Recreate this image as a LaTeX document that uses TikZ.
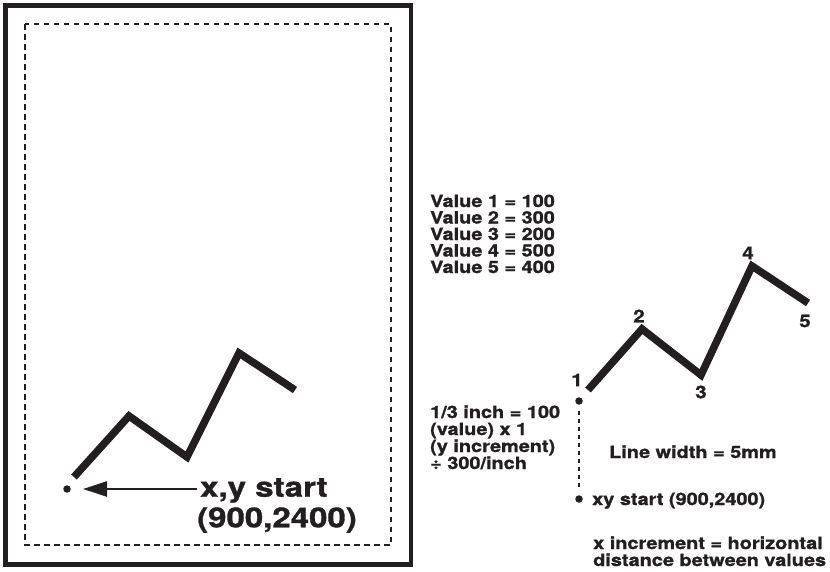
\documentclass[tikz,border=0pt]{standalone}
\usepackage{fontspec}
\setmainfont{TeX Gyre Heros}
\newfontfamily\smallf[FakeStretch=1.17,FakeBold=1.2]{TeX Gyre Heros Bold}
\newfontfamily\bigf[FakeStretch=1.2,FakeBold=1.2]{TeX Gyre Heros Bold}
\usetikzlibrary{arrows.meta}
\definecolor{ink}{HTML}{231F20}
\begin{document}
\begin{tikzpicture}[x=1pt,y=-1pt,
  lbl/.style={inner sep=0, anchor=base west, text depth=0pt, text=ink, font=\smallf\fontsize{17}{17}\selectfont},
  num/.style={inner sep=0, text=ink, font=\smallf\fontsize{17.5}{17}\selectfont},
  big/.style={inner sep=0, anchor=base west, text=ink, font=\bigf\fontsize{27.5}{30}\selectfont},
  chart/.style={draw=ink, line width=7.5pt, line join=miter, line cap=butt},
  dotmark/.style={circle, fill=ink, inner sep=0, minimum size=7.5pt},
  page/.style={draw=ink, line width=4.3pt},
  margin/.style={draw=ink, line width=2.4pt, dash pattern=on 5.5pt off 4.5pt},
  guide/.style={draw=ink, line width=2.8pt, dash pattern=on 4.2pt off 3.8pt},
  pointer/.style={draw=ink, line width=2.4pt, -{Triangle[length=24pt,width=15pt]}}]
\useasboundingbox (0,0) rectangle (830,571);
% page and margin
\draw[page] (5.5,5.5) rectangle (411,564.5);
\draw[margin] (25,24) rectangle (391,545);
% left chart
\coordinate (a0) at (74,477);
\coordinate (a1) at (129,416);
\coordinate (a2) at (187,457);
\coordinate (a3) at (239,353);
\coordinate (a4) at (295,390);
\draw[chart] (a0) -- (a1) -- (a2) -- (a3) -- (a4);
\node[dotmark] (dotL) at (67,489) {};
\node[big] (xy1) at (200,496.7) {x,y start};
\node[big] (xy2) at (197,527.3) {(900,2400)};
\coordinate (arrtail) at (197,489);
\coordinate (arrtip) at (83,489);
\draw[pointer] (arrtail) -- (arrtip);
% values
\node[lbl] (v1) at (430,207) {Value 1 = 100};
\node[lbl] (v2) at (430,223.5) {Value 2 = 300};
\node[lbl] (v3) at (430,240) {Value 3 = 200};
\node[lbl] (v4) at (430,256.5) {Value 4 = 500};
\node[lbl] (v5) at (430,273) {Value 5 = 400};
% scale notes
\node[lbl] (s1) at (430,418) {1/3 inch = 100};
\node[lbl] (s2) at (430,435) {(value) x 1};
\node[lbl] (s3) at (430,452) {(y increment)};
\node[lbl] (s4) at (430,469) {÷ 300/inch};
% right chart
\coordinate (b0) at (588,390);
\coordinate (b1) at (642,329);
\coordinate (b2) at (701,375);
\coordinate (b3) at (752,266);
\coordinate (b4) at (808,303);
\draw[chart] (b0) -- (b1) -- (b2) -- (b3) -- (b4);
\node[num] (n1) at (577,380) {1};
\node[num] (n2) at (639,316) {2};
\node[num] (n3) at (701,392) {3};
\node[num] (n4) at (748,253) {4};
\node[num] (n5) at (805,321) {5};
\node[dotmark] (dotT) at (579,401) {};
\node[dotmark] (dotB) at (579,499) {};
\draw[guide, shorten <=6pt, shorten >=6pt] (dotT) -- (dotB);
\node[lbl] (lw) at (609,458) {Line width = 5mm};
\node[lbl] (xs) at (592,505) {xy start (900,2400)};
\node[lbl] (xi1) at (593,549) {x increment = horizontal};
\node[lbl] (xi2) at (593,566) {distance between values};
\end{tikzpicture}
\end{document}
